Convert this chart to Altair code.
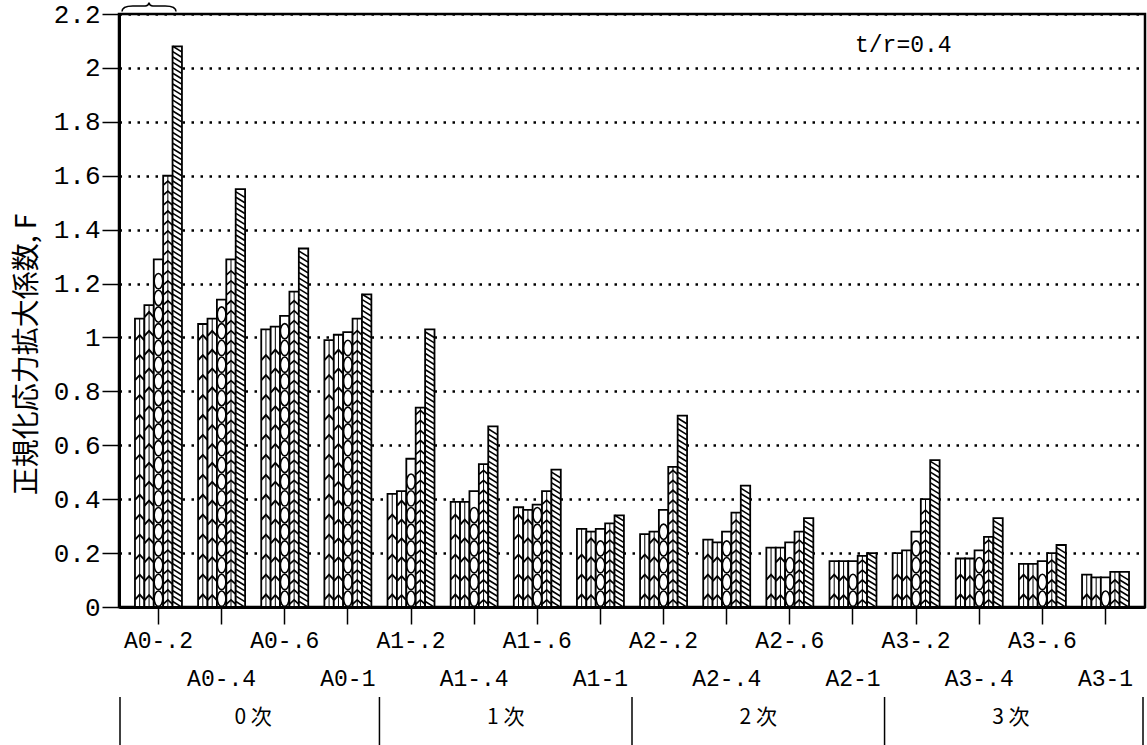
import json

import altair as alt
import pandas as pd

# ---- data -----------------------------------------------------------------
groups = ["A0-.2", "A0-.4", "A0-.6", "A0-1",
          "A1-.2", "A1-.4", "A1-.6", "A1-1",
          "A2-.2", "A2-.4", "A2-.6", "A2-1",
          "A3-.2", "A3-.4", "A3-.6", "A3-1"]
lower_row = ["A0-.4", "A0-1", "A1-.4", "A1-1", "A2-.4", "A2-1", "A3-.4", "A3-1"]

series = ["s1", "s2", "s3", "s4", "s5"]
f_s1 = [1.07, 1.05, 1.03, 0.99, 0.42, 0.39, 0.37, 0.29, 0.27, 0.25, 0.22, 0.17, 0.20, 0.18, 0.16, 0.12]
f_s2 = [1.12, 1.07, 1.04, 1.01, 0.43, 0.39, 0.36, 0.28, 0.28, 0.24, 0.22, 0.17, 0.21, 0.18, 0.16, 0.11]
f_s3 = [1.29, 1.14, 1.08, 1.02, 0.55, 0.43, 0.38, 0.29, 0.36, 0.28, 0.24, 0.17, 0.28, 0.21, 0.17, 0.11]
f_s4 = [1.60, 1.29, 1.17, 1.07, 0.74, 0.53, 0.43, 0.31, 0.52, 0.35, 0.28, 0.19, 0.40, 0.26, 0.20, 0.13]
f_s5 = [2.08, 1.55, 1.33, 1.16, 1.03, 0.67, 0.51, 0.34, 0.71, 0.45, 0.33, 0.20, 0.545, 0.33, 0.23, 0.13]

y_ticks = [0, 0.2, 0.4, 0.6, 0.8, 1.0, 1.2, 1.4, 1.6, 1.8, 2.0, 2.2]

sections = ["0 次", "1 次", "2 次", "3 次"]
section_centres = ["A0-.6", "A1-.6", "A2-.6", "A3-.6"]
section_breaks = ["A1-.2", "A2-.2", "A3-.2"]

note = "t/r=0.4"
y_title = "正規化応力拡大係数, F"

# ---- layout ---------------------------------------------------------------
W, H = 1026, 593
PAD = {"left": 119, "top": 14, "right": 2, "bottom": 138}

# hatch glyph for each series: svg path, repeat pitch (data units), size, stroke
CHEV = "M-1,0.55L0,-0.55L1,0.55"
CHEV_FLAT = "M-1,0.45L0,-0.45L1,0.45"
CELL = "M0,-0.85A0.48,0.85 0 1,1 0,0.85A0.48,0.85 0 1,1 0,-0.85Z"
HATCH = "M-1,-0.62L1,0.62"
patterns = {
    "s1": (CHEV, 0.074, 84, 1.9),
    "s2": (CHEV, 0.070, 84, 1.9),
    "s3": (CELL, 0.062, 324, 1.6),
    "s4": (CHEV_FLAT, 0.037, 84, 1.7),
    "s5": (HATCH, 0.020, 80, 1.6),
}
spined = ["s1", "s2", "s4"]

values = {"s1": f_s1, "s2": f_s2, "s3": f_s3, "s4": f_s4, "s5": f_s5}
bars_df = pd.DataFrame(
    [{"group": g, "series": s, "F": values[s][i]}
     for i, g in enumerate(groups) for s in series]
)

# fill patterns: glyphs repeated up each bar, kept below the bar top
rows = []
for _, r in bars_df.iterrows():
    shape, pitch, size, sw = patterns[r["series"]]
    k = 0
    while (k + 1) * pitch <= r["F"]:
        rows.append({"group": r["group"], "series": r["series"],
                     "y": (k + 0.5) * pitch, "shape": shape,
                     "size": size, "sw": sw})
        k += 1
pat_df = pd.DataFrame(rows)
spine_df = bars_df[bars_df["series"].isin(spined)]

x_scale = alt.Scale(domain=groups, paddingInner=0, paddingOuter=0.125)
off_scale = alt.Scale(domain=series, paddingInner=0, paddingOuter=0.86)
y_scale = alt.Scale(domain=[0, 2.2], nice=False, zero=True)

label_expr = ("indexof(" + json.dumps(lower_row) +
              ", datum.value) >= 0 ? ['', datum.value] : datum.value")

x_axis = alt.Axis(
    title=None, labelAngle=0, labelExpr=label_expr, labelOverlap=False,
    labelFont="Liberation Mono", labelFontSize=23, labelColor="black",
    labelBaseline="top", labelLineHeight=38, labelPadding=5,
    tickSize=17, tickColor="black", tickWidth=1.5,
    domainColor="black", domainWidth=3, grid=False,
)
y_axis = alt.Axis(
    values=y_ticks, format=".1~f", title=y_title,
    labelFont="Liberation Mono", labelFontSize=26, labelColor="black",
    labelPadding=2, tickSize=17, tickColor="black", tickWidth=1.5,
    domainColor="black", domainWidth=3,
    grid=True, gridColor="black", gridDash=[2.5, 6.5], gridWidth=2.5,
    titleFont="Noto Sans CJK JP", titleFontSize=28, titleFontWeight="normal",
    titleColor="black", titleX=-92, titleY=340, titleAlign="center",
    titleBaseline="middle", titleAngle=270,
)

bars = alt.Chart(bars_df).mark_bar(
    fill="white", stroke="black", strokeWidth=1.8
).encode(
    x=alt.X("group:N", scale=x_scale, axis=x_axis, sort=groups),
    xOffset=alt.XOffset("series:N", scale=off_scale, sort=series),
    y=alt.Y("F:Q", scale=y_scale, axis=y_axis),
)

# centre line of the herringbone fills
spines = alt.Chart(spine_df).mark_rule(color="black", strokeWidth=1.0).encode(
    x=alt.X("group:N", sort=groups),
    xOffset=alt.XOffset("series:N", sort=series),
    y=alt.Y("F:Q"),
    y2=alt.datum(0),
)

fills = alt.Chart(pat_df).mark_point(
    filled=False, stroke="black", opacity=1
).encode(
    x=alt.X("group:N", sort=groups),
    xOffset=alt.XOffset("series:N", sort=series),
    y=alt.Y("y:Q"),
    shape=alt.Shape("shape:N", scale=None),
    size=alt.Size("size:Q", scale=None),
    strokeWidth=alt.StrokeWidth("sw:Q", scale=None),
)

# strip of order labels (0 次 … 3 次) under the category axis
breaks = alt.Chart(pd.DataFrame({"group": section_breaks})).mark_rule(
    color="black", strokeWidth=1.5
).encode(
    x=alt.X("group:N", bandPosition=0, sort=groups),
    y=alt.value(683), y2=alt.value(731),
)
edge_l = alt.Chart(pd.DataFrame({"e": [0]})).mark_rule(
    color="black", strokeWidth=1.5
).encode(x=alt.value(1), y=alt.value(683), y2=alt.value(731))
edge_r = alt.Chart(pd.DataFrame({"e": [0]})).mark_rule(
    color="black", strokeWidth=1.5
).encode(x=alt.value(W - 2), y=alt.value(683), y2=alt.value(731))

section_text = alt.Chart(
    pd.DataFrame({"group": section_centres, "label": sections})
).mark_text(
    font="Noto Sans CJK JP", fontSize=21, color="black", baseline="middle"
).encode(
    x=alt.X("group:N", bandPosition=0, sort=groups),
    y=alt.value(704),
    text="label:N",
)

note_text = alt.Chart(pd.DataFrame({"t": [note]})).mark_text(
    font="Liberation Mono", fontSize=23, color="black", align="left",
    baseline="middle"
).encode(x=alt.value(736), y=alt.value(31), text="t:N")

BRACE = ("M-1,0.17Q-1,-0.04 -0.6,-0.04L-0.14,-0.04Q-0.02,-0.04 0,-0.16"
         "Q0.02,-0.04 0.14,-0.04L0.6,-0.04Q1,-0.04 1,0.17")
brace = alt.Chart(pd.DataFrame({"b": [0]})).mark_point(
    shape=BRACE, size=2916, filled=False, stroke="black", strokeWidth=1.5,
    opacity=1
).encode(x=alt.value(30), y=alt.value(-7))

chart = alt.layer(
    bars, spines, fills, breaks, edge_l, edge_r, section_text, note_text, brace
).properties(
    width=W, height=H,
    autosize=alt.AutoSizeParams(type="none"),
    padding=PAD,
    background="white",
).configure_view(
    stroke="black", strokeWidth=2.5
)

chart.save("out.html", embed_options={"renderer": "svg", "actions": False})
